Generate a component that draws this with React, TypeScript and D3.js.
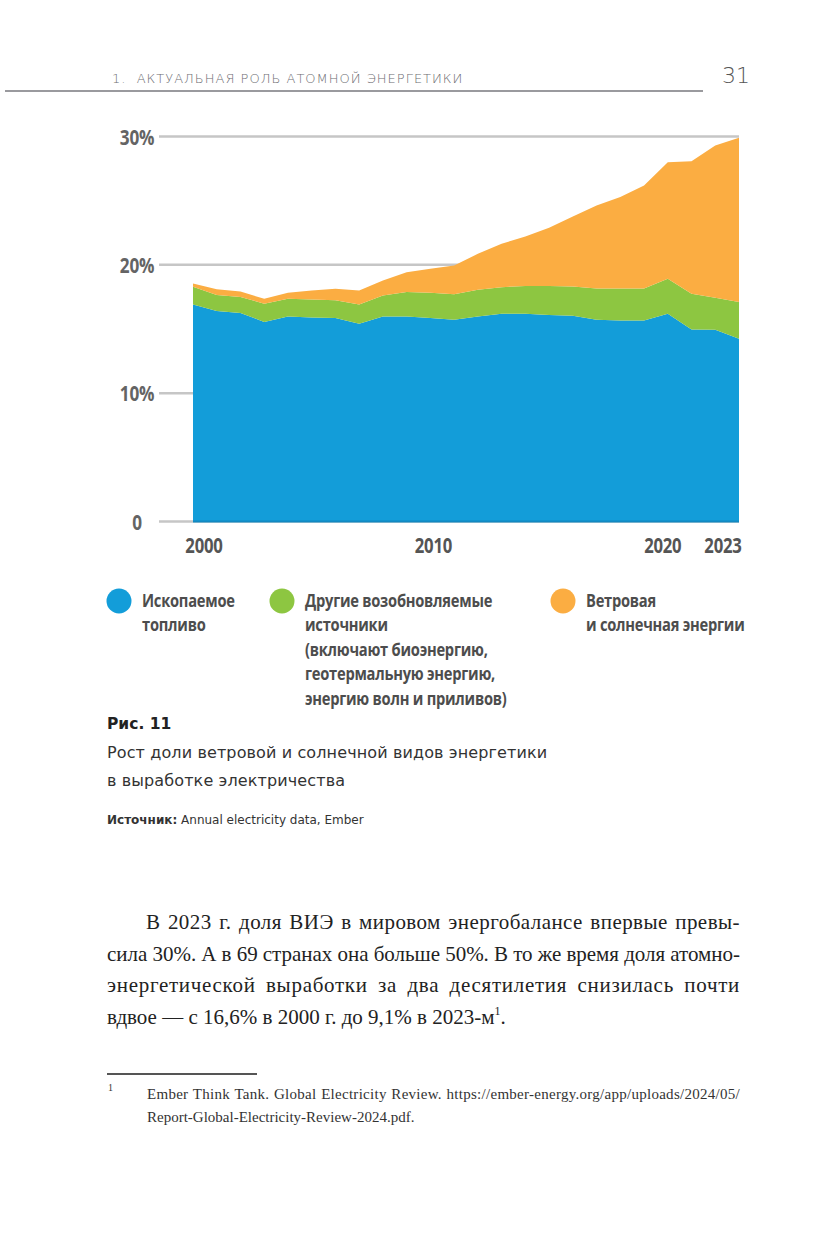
import React, { useEffect, useRef } from "react";
import * as d3 from "d3";

// shares of world electricity generation, %
const years = [
  2000, 2001, 2002, 2003, 2004, 2005, 2006, 2007, 2008, 2009, 2010, 2011,
  2012, 2013, 2014, 2015, 2016, 2017, 2018, 2019, 2020, 2021, 2022, 2023,
];
const fossil = [
  16.9, 16.4, 16.25, 15.55, 15.98, 15.9, 15.85, 15.4, 15.98, 15.98, 15.85,
  15.72, 15.98, 16.19, 16.19, 16.1, 16.03, 15.72, 15.67, 15.67, 16.19, 14.96,
  14.94, 14.24,
];
const otherRenewables = [
  1.4, 1.25, 1.25, 1.42, 1.37, 1.4, 1.4, 1.5, 1.64, 1.9, 1.97, 1.98, 2.07,
  2.07, 2.17, 2.26, 2.29, 2.44, 2.49, 2.49, 2.73, 2.79, 2.49, 2.86,
];
const windSolar = [
  0.25, 0.45, 0.43, 0.38, 0.47, 0.7, 0.88, 1.1, 1.16, 1.55, 1.88, 2.25, 2.81,
  3.38, 3.84, 4.52, 5.45, 6.47, 7.12, 8.03, 9.08, 10.33, 11.87, 12.8,
];

const yTicks = [0, 10, 20, 30];
const yTickLabels = ["0", "10%", "20%", "30%"];
const xTicks = [2000, 2010, 2020, 2023];

const seriesKeys = ["fossil", "other", "wind"];
const seriesColors = ["#139dd9", "#8dc641", "#fbad42"];
const legendLabels = [
  ["Ископаемое", "топливо"],
  [
    "Другие возобновляемые",
    "источники",
    "(включают биоэнергию,",
    "геотермальную энергию,",
    "энергию волн и приливов)",
  ],
  ["Ветровая", "и солнечная энергии"],
];

const bodyLines = [
  "В 2023 г. доля ВИЭ в мировом энергобалансе впервые превы-",
  "сила 30%. А в 69 странах она больше 50%. В то же время доля атомно-",
  "энергетической выработки за два десятилетия снизилась почти",
];
const bodyLast = "вдвое — с 16,6% в 2000 г. до 9,1% в 2023-м";

const condensed = "'Open Sans', 'DejaVu Sans', sans-serif";
const geometric = "'DejaVu Sans', sans-serif";
const serif = "'Liberation Serif', 'DejaVu Serif', serif";

// narrow bold label: the sans is squeezed horizontally to look condensed
const Cond: React.FC<{
  x: number;
  y: number;
  s?: number;
  size: number;
  anchor?: string;
  fill: string;
  children: React.ReactNode;
}> = ({ x, y, s = 0.8, size, anchor = "start", fill, children }) => (
  <g transform={`translate(${x},${y}) scale(${s},1)`}>
    <text
      textAnchor={anchor}
      fontFamily={condensed}
      fontWeight={700}
      fontSize={size}
      letterSpacing={-0.3}
      fill={fill}
    >
      {children}
    </text>
  </g>
);

const App: React.FC = () => {
  const svgRef = useRef<SVGSVGElement>(null);

  const x = d3.scaleLinear().domain([2000, 2023]).range([193, 739]);
  const y = d3.scaleLinear().domain([0, 30]).range([521.5, 136.5]);

  const table = years.map((yr, i) => ({
    year: yr,
    fossil: fossil[i],
    other: otherRenewables[i],
    wind: windSolar[i],
  }));
  const stacked = d3.stack<any>().keys(seriesKeys)(table);
  const area = d3
    .area<any>()
    .x((d) => x(d.data.year))
    .y0((d) => y(d[0]))
    .y1((d) => y(d[1]));

  const tickNudge: Record<number, number> = { 2000: 11, 2010: 3, 2020: -5, 2023: -16 };
  const legendX = [119, 282, 563];

  // justify lines: spread the slack over letters and word gaps
  useEffect(() => {
    if (!svgRef.current) return;
    d3.select(svgRef.current)
      .selectAll<SVGTextElement, unknown>("text[data-justify]")
      .each(function () {
        const target = +(this.getAttribute("data-justify") || 0);
        const share = +(this.getAttribute("data-letter") || 0.4);
        this.style.wordSpacing = "0px";
        this.style.letterSpacing = "0px";
        const w = this.getComputedTextLength();
        const txt = this.textContent || "";
        const spaces = txt.split(" ").length - 1;
        const slack = target - w;
        const ls = (slack * share) / (txt.length - 1);
        this.style.letterSpacing = `${ls}px`;
        const w2 = this.getComputedTextLength();
        if (spaces > 0) this.style.wordSpacing = `${(target - w2) / spaces}px`;
      });
  }, []);

  return (
    <svg
      ref={svgRef}
      width={833}
      height={1240}
      style={{ position: "absolute", left: 0, top: 0, background: "#fff" }}
    >
      {/* running header */}
      <text
        x={112}
        y={83}
        fontFamily={geometric}
        fontWeight={200}
        fontSize={13}
        letterSpacing={1.0}
        fill="#6d6d72"
      >
        {"1.\u00a0\u00a0АКТУАЛЬНАЯ РОЛЬ АТОМНОЙ ЭНЕРГЕТИКИ"}
      </text>
      <line x1={5} x2={703} y1={91} y2={91} stroke="#9a9a9e" strokeWidth={2} />
      <text x={722} y={83} fontFamily={geometric} fontWeight={200} fontSize={22} fill="#555">
        31
      </text>

      {/* grid */}
      {yTicks.map((t) => (
        <line key={t} x1={159} x2={739} y1={y(t)} y2={y(t)} stroke="#c6c6c6" strokeWidth={2.5} />
      ))}

      {/* areas */}
      {stacked.map((s, i) => (
        <path key={s.key} d={area(s) || ""} fill={seriesColors[i]} />
      ))}
      <line x1={x(2000)} x2={x(2023)} y1={y(0)} y2={y(0)} stroke="#1289c2" strokeWidth={2} />

      {yTicks.map((t, i) => (
        <Cond key={t} x={137} y={y(t) + 8} s={0.78} size={22} anchor="middle" fill="#646464">
          {yTickLabels[i]}
        </Cond>
      ))}
      {xTicks.map((t) => (
        <Cond key={t} x={x(t) + tickNudge[t]} y={553} s={0.76} size={22} anchor="middle" fill="#555">
          {t}
        </Cond>
      ))}

      {/* legend */}
      {legendLabels.map((lines, i) => (
        <g key={i}>
          <circle cx={legendX[i]} cy={601} r={12.5} fill={seriesColors[i]} />
          {lines.map((ln, j) => (
            <Cond key={j} x={legendX[i] + 23} y={606.5 + j * 24.5} s={0.817} size={18} fill="#4d4d4d">
              {ln}
            </Cond>
          ))}
        </g>
      ))}

      {/* caption */}
      <text x={107} y={729} fontFamily={geometric} fontWeight={700} fontSize={15.5} fill="#222">
        Рис. 11
      </text>
      <text x={107} y={758} fontFamily={geometric} fontSize={16} letterSpacing={0.12} fill="#333">
        Рост доли ветровой и солнечной видов энергетики
      </text>
      <text x={107} y={786} fontFamily={geometric} fontSize={16} letterSpacing={0.12} fill="#333">
        в выработке электричества
      </text>
      <text x={107} y={824} fontFamily={geometric} fontSize={12} fill="#333">
        <tspan fontWeight={700}>Источник:</tspan> Annual electricity data, Ember
      </text>

      {/* body text */}
      {bodyLines.map((ln, i) => (
        <text
          key={i}
          x={i === 0 ? 146 : 107}
          y={929 + i * 31.5}
          data-justify={i === 0 ? 594 : 633}
          data-letter={0.6}
          fontFamily={serif}
          fontSize={21}
          fill="#222"
        >
          {ln}
        </text>
      ))}
      <text x={107} y={929 + 3 * 31.5} fontFamily={serif} fontSize={21} fill="#222">
        {bodyLast}
        <tspan fontSize={12} dy={-9}>1</tspan>
        <tspan dy={9}>.</tspan>
      </text>

      {/* footnote */}
      <line x1={107} x2={257} y1={1074} y2={1074} stroke="#555" strokeWidth={1.8} />
      <text x={108} y={1091} fontFamily={serif} fontSize={10} fill="#333">
        1
      </text>
      <text
        x={147}
        y={1099}
        data-justify={593}
        data-letter={0.85}
        fontFamily={serif}
        fontSize={15}
        fill="#333"
      >
        Ember Think Tank. Global Electricity Review. https://ember-energy.org/app/uploads/2024/05/
      </text>
      <text x={147} y={1122} fontFamily={serif} fontSize={15} fill="#333">
        Report-Global-Electricity-Review-2024.pdf.
      </text>
    </svg>
  );
};

export default App;
